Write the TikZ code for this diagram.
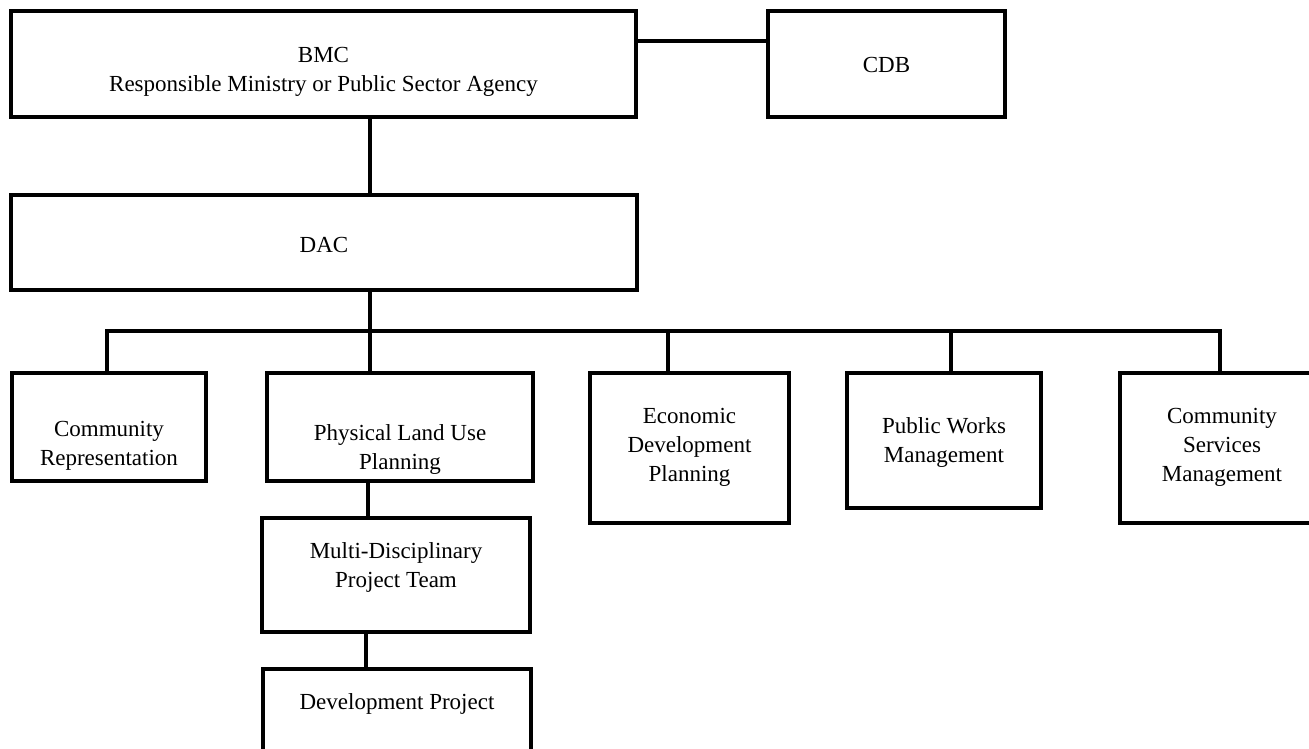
\documentclass[tikz,border=0pt]{standalone}
\usepackage{fontspec}
\setmainfont{Liberation Serif}
\begin{document}
\begin{tikzpicture}[x=1pt,y=-1pt,
  box/.style={draw,line width=4pt,rectangle,inner sep=0pt},
  lbl/.style={font=\fontsize{23}{29}\selectfont,align=center,anchor=base,inner sep=0pt},
  con/.style={line width=4pt,line join=miter}]
\useasboundingbox (0,0) rectangle (1309,749);
\clip (0,0) rectangle (1309,749);
\fill[white] (0,0) rectangle (1309,749);
% boxes
\node[box,minimum width=625,minimum height=106] (bmc) at (323.5,64) {};
\node[box,minimum width=237,minimum height=106] (cdb) at (886.5,64) {};
\node[box,minimum width=626,minimum height=95] (dac) at (324,242.5) {};
\node[box,minimum width=194,minimum height=108] (cr) at (109,427) {};
\node[box,minimum width=266,minimum height=108] (plup) at (400,427) {};
\node[box,minimum width=199,minimum height=150] (econ) at (689.5,448) {};
\node[box,minimum width=194,minimum height=135] (pw) at (944,440.5) {};
\node[box,minimum width=204,minimum height=150] (csm) at (1222,448) {};
\node[box,minimum width=268,minimum height=114] (multi) at (396,575) {};
\node[box,minimum width=268,minimum height=130] (dev) at (397,734) {};
% labels (anchor = baseline of the last line)
\node[lbl] at (323.5,92) {BMC\\Responsible Ministry or Public Sector Agency};
\node[lbl] at (886.5,73) {CDB};
\node[lbl] at (324,252) {DAC};
\node[lbl] at (109,465) {Community\\Representation};
\node[lbl] at (400,469) {Physical Land Use\\Planning};
\node[lbl] at (689.5,481) {Economic\\Development\\Planning};
\node[lbl] at (944,462) {Public Works\\Management};
\node[lbl] at (1222,481) {Community\\Services\\Management};
\node[lbl] at (396,587) {Multi-Disciplinary\\Project Team};
\node[lbl] at (397,709) {Development Project};
% connectors
\coordinate (t1) at (107,331);
\coordinate (t2) at (370,331);
\coordinate (t3) at (668,331);
\coordinate (t4) at (951,331);
\coordinate (t5) at (1220,331);
\coordinate (lk) at (700,41);
\draw[con] (bmc.east |- lk) -- (cdb.west |- lk);
\draw[con] (bmc.south -| t2) -- (dac.north -| t2);
\draw[con] (dac.south -| t2) -- (t2);
\draw[con] (cr.north -| t1) -- (t1) -- (t5) -- (csm.north -| t5);
\draw[con] (t2) -- (plup.north -| t2);
\draw[con] (t3) -- (econ.north -| t3);
\draw[con] (t4) -- (pw.north -| t4);
\coordinate (m1) at (368,0);
\coordinate (m2) at (366,0);
\draw[con] (plup.south -| m1) -- (multi.north -| m1);
\draw[con] (multi.south -| m2) -- (dev.north -| m2);
\end{tikzpicture}
\end{document}
